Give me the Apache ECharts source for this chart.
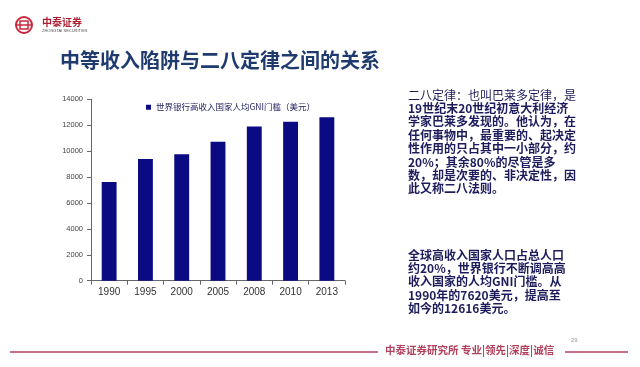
<!DOCTYPE html>
<html><head><meta charset="utf-8">
<script src="https://cdn.jsdelivr.net/npm/echarts@6/dist/echarts.min.js"></script>
<style>html,body{margin:0;padding:0;background:#fff}#c{width:640px;height:367px}</style>
</head><body><div id="c"></div>
<script>
var categories = ['1990','1995','2000','2005','2008','2010','2013'];
var gniThreshold = [7620, 9390, 9750, 10726, 11906, 12276, 12616];
var seriesName = '世界银行高收入国家人均GNI门槛（美元）';
var yTicks = {min: 0, max: 14000, interval: 2000};
var titleText = '中等收入陷阱与二八定律之间的关系';
var para1 = ['二八定律：也叫巴莱多定律，是','19世纪末20世纪初意大利经济','学家巴莱多发现的。他认为，在','任何事物中，最重要的、起决定','性作用的只占其中一小部分，约','20%；其余80%的尽管是多','数，却是次要的、非决定性，因','此又称二八法则。'];
var para2 = ['全球高收入国家人口占总人口','约20%，世界银行不断调高高','收入国家的人均GNI门槛。从','1990年的7620美元，提高至','如今的12616美元。'];
var footerText = '中泰证券研究所 专业|领先|深度|诚信';
var pageNo = '29';

var font = '"Noto Sans CJK SC", "Noto Sans", sans-serif';
var textColor = '#1c1c5c';
var graphics = [];
// logo
graphics.push({type:'circle', shape:{cx:24, cy:25, r:8}, style:{fill:'none', stroke:'#c8283c', lineWidth:2}});
graphics.push({type:'line', shape:{x1:16, y1:25, x2:32, y2:25}, style:{stroke:'#c8283c', lineWidth:1.5}});
graphics.push({type:'rect', shape:{x:20, y:21, width:8, height:8}, style:{fill:'none', stroke:'#c8283c', lineWidth:1.5}});
graphics.push({type:'text', left:42, top:17, style:{text:'中泰证券', font:'bold 10px ' + font, fill:'#b01e32'}});
graphics.push({type:'text', left:42, top:29, style:{text:'ZHONGTAI SECURITIES', font:'4px sans-serif', fill:'#555'}});
// title
graphics.push({type:'text', left:60, top:50, style:{text:titleText, font:'bold 20px ' + font, fill:'#1f3a6e'}});
// paragraphs
para1.forEach(function(t, i){
  graphics.push({type:'text', left:408, top:89 + i*13.4, style:{text:t, font:(i===0?'':'bold ') + '12px ' + font, fill:textColor}});
});
para2.forEach(function(t, i){
  graphics.push({type:'text', left:408, top:249 + i*13.4, style:{text:t, font:'bold 12px ' + font, fill:textColor}});
});
// footer
graphics.push({type:'line', shape:{x1:10, y1:352, x2:378, y2:352}, style:{stroke:'#b0405c', lineWidth:1.5}});
graphics.push({type:'text', left:385, top:345, style:{text:footerText, font:'bold 10.5px ' + font, fill:'#b0405c'}});
graphics.push({type:'line', shape:{x1:565, y1:352, x2:628, y2:352}, style:{stroke:'#b0405c', lineWidth:1.5}});
graphics.push({type:'text', left:571, top:337, style:{text:pageNo, font:'6px sans-serif', fill:'#999'}});

var chart = echarts.init(document.getElementById('c'));
chart.setOption({
  animation:false,
  backgroundColor:'#fff',
  grid:{left:91, right:295, top:99.3, bottom:86.3, containLabel:false},
  legend:{data:[{name:seriesName, icon:'rect'}], left:141, top:98, itemWidth:5, itemHeight:5, itemGap:3,
    textStyle:{fontSize:8.5, color:'#1c1c5c', fontFamily:font}},
  xAxis:{type:'category', data:categories,
    axisLine:{lineStyle:{color:'#666', width:1}},
    axisTick:{show:true, alignWithLabel:false, length:4, lineStyle:{color:'#666'}},
    axisLabel:{fontSize:10, color:'#333', margin:7, fontFamily:'"Liberation Sans", sans-serif'}},
  yAxis:{type:'value', min:yTicks.min, max:yTicks.max, interval:yTicks.interval,
    axisLine:{show:true, lineStyle:{color:'#666', width:1}},
    axisTick:{show:true, length:4, lineStyle:{color:'#666'}},
    splitLine:{show:false},
    axisLabel:{fontSize:7.5, color:'#444', margin:8, fontFamily:'"Liberation Sans", sans-serif',
      formatter:function(v){return String(v);}}},
  series:[{name:seriesName, type:'bar', data:gniThreshold, barWidth:'41%', itemStyle:{color:'#0a0a82'}}],
  graphic:graphics
});
</script></body></html>
